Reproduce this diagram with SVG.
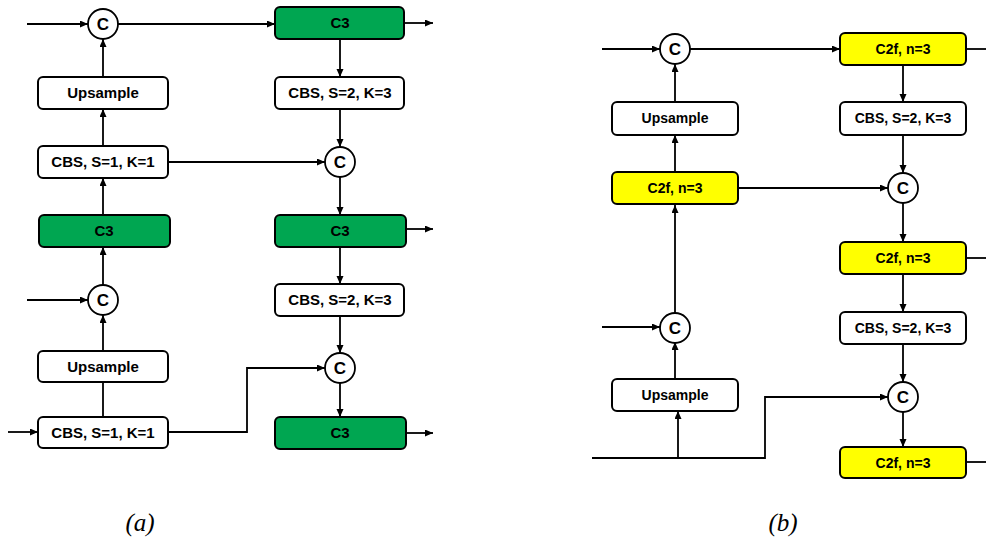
<svg xmlns="http://www.w3.org/2000/svg" width="986" height="539" viewBox="0 0 986 539">
  <style>
    .box { stroke: #000; stroke-width: 2; rx: 5; ry: 5; }
    .plain { fill: #fff; }
    .green { fill: #00a651; }
    .yellow { fill: #ffff00; }
    .cat { fill: #fff; stroke: #000; stroke-width: 1.8; }
    .lbl { font-family: "Liberation Sans", Arial, sans-serif; font-weight: bold; font-size: 15px; text-anchor: middle; fill: #000; }
    .lblb { font-family: "Liberation Sans", Arial, sans-serif; font-weight: bold; font-size: 14px; text-anchor: middle; fill: #000; }
    .cl { font-family: "Liberation Sans", Arial, sans-serif; font-weight: bold; font-size: 17px; text-anchor: middle; fill: #000; }
    .cap { font-family: "Liberation Serif", "Times New Roman", serif; font-style: italic; font-size: 25px; text-anchor: middle; fill: #000; }
    .wire { fill: none; stroke: #000; stroke-width: 1.8; }
    .arr { marker-end: url(#ah); }
  </style>
  <defs>
    <marker id="ah" markerUnits="userSpaceOnUse" markerWidth="9" markerHeight="8" refX="8" refY="3.5" orient="auto">
      <path d="M0,0 L8,3.5 L0,7 z" fill="#000"/>
    </marker>
  </defs>

  <!-- connectors -->
  <g id="connectors">
    <!-- panel a -->
    <line class="wire arr" x1="27" y1="24" x2="88" y2="24"/>
    <line class="wire arr" x1="118" y1="24" x2="275" y2="24"/>
    <line class="wire arr" x1="404" y1="23" x2="433" y2="23"/>
    <line class="wire arr" x1="103" y1="77" x2="103" y2="39"/>
    <line class="wire arr" x1="340" y1="39" x2="340" y2="77"/>
    <line class="wire arr" x1="103" y1="146" x2="103" y2="109"/>
    <line class="wire arr" x1="168" y1="162" x2="325" y2="162"/>
    <line class="wire arr" x1="340" y1="109" x2="340" y2="147"/>
    <line class="wire arr" x1="103" y1="215" x2="103" y2="178"/>
    <line class="wire arr" x1="340" y1="177" x2="340" y2="215"/>
    <line class="wire arr" x1="406" y1="229" x2="433" y2="229"/>
    <line class="wire arr" x1="340" y1="247" x2="340" y2="284"/>
    <line class="wire arr" x1="103" y1="285" x2="103" y2="247"/>
    <line class="wire arr" x1="27" y1="300" x2="88" y2="300"/>
    <line class="wire arr" x1="103" y1="351" x2="103" y2="315"/>
    <line class="wire arr" x1="340" y1="316" x2="340" y2="353"/>
    <line class="wire" x1="103" y1="417" x2="103" y2="382"/>
    <line class="wire arr" x1="8" y1="432" x2="38" y2="432"/>
    <polyline class="wire arr" points="168,432 247,432 247,368 325,368"/>
    <line class="wire arr" x1="340" y1="383" x2="340" y2="417"/>
    <line class="wire arr" x1="406" y1="433" x2="433" y2="433"/>

    <!-- panel b -->
    <line class="wire arr" x1="602" y1="49" x2="660" y2="49"/>
    <line class="wire arr" x1="690" y1="49" x2="840" y2="49"/>
    <line class="wire" x1="966" y1="49" x2="986" y2="49"/>
    <line class="wire arr" x1="675" y1="102" x2="675" y2="64"/>
    <line class="wire arr" x1="903" y1="65" x2="903" y2="102"/>
    <line class="wire arr" x1="675" y1="172" x2="675" y2="135"/>
    <line class="wire arr" x1="738" y1="188" x2="888" y2="188"/>
    <line class="wire arr" x1="903" y1="135" x2="903" y2="173"/>
    <line class="wire arr" x1="903" y1="203" x2="903" y2="242"/>
    <line class="wire" x1="966" y1="258" x2="986" y2="258"/>
    <line class="wire arr" x1="675" y1="313" x2="675" y2="205"/>
    <line class="wire arr" x1="602" y1="327" x2="660" y2="327"/>
    <line class="wire arr" x1="903" y1="274" x2="903" y2="312"/>
    <line class="wire arr" x1="675" y1="379" x2="675" y2="342"/>
    <line class="wire arr" x1="903" y1="344" x2="903" y2="382"/>
    <polyline class="wire arr" points="592,458 765,458 765,397 888,397"/>
    <line class="wire arr" x1="678" y1="458" x2="678" y2="411"/>
    <line class="wire arr" x1="903" y1="412" x2="903" y2="447"/>
    <line class="wire" x1="966" y1="462" x2="986" y2="462"/>
  </g>

  <!-- panel a nodes -->
  <g id="a-cat1"><circle class="cat" cx="103" cy="24" r="15"/><text class="cl" x="103" y="30">C</text></g>
  <g id="a-c3-top"><rect class="box green" x="275" y="7" width="129" height="32"/><text class="lbl" x="340" y="28">C3</text></g>
  <g id="a-up1"><rect class="box plain" x="38" y="77" width="130" height="32"/><text class="lbl" x="103" y="98">Upsample</text></g>
  <g id="a-cbs-down1"><rect class="box plain" x="275" y="77" width="129" height="32"/><text class="lbl" x="340" y="98">CBS, S=2, K=3</text></g>
  <g id="a-cbs1"><rect class="box plain" x="38" y="146" width="130" height="32"/><text class="lbl" x="103" y="167">CBS, S=1, K=1</text></g>
  <g id="a-cat2"><circle class="cat" cx="340" cy="162" r="15"/><text class="cl" x="340" y="168">C</text></g>
  <g id="a-c3-left"><rect class="box green" x="39" y="215" width="131" height="32"/><text class="lbl" x="104" y="236">C3</text></g>
  <g id="a-c3-mid"><rect class="box green" x="275" y="215" width="131" height="32"/><text class="lbl" x="340" y="236">C3</text></g>
  <g id="a-cbs-down2"><rect class="box plain" x="275" y="284" width="129" height="32"/><text class="lbl" x="340" y="305">CBS, S=2, K=3</text></g>
  <g id="a-cat3"><circle class="cat" cx="103" cy="300" r="15"/><text class="cl" x="103" y="306">C</text></g>
  <g id="a-up2"><rect class="box plain" x="38" y="351" width="130" height="31"/><text class="lbl" x="103" y="372">Upsample</text></g>
  <g id="a-cat4"><circle class="cat" cx="340" cy="368" r="15"/><text class="cl" x="340" y="374">C</text></g>
  <g id="a-cbs2"><rect class="box plain" x="38" y="417" width="130" height="31"/><text class="lbl" x="103" y="438">CBS, S=1, K=1</text></g>
  <g id="a-c3-bot"><rect class="box green" x="275" y="417" width="131" height="32"/><text class="lbl" x="340" y="438">C3</text></g>

  <!-- panel b nodes -->
  <g id="b-cat1"><circle class="cat" cx="675" cy="49" r="15"/><text class="cl" x="675" y="55">C</text></g>
  <g id="b-c2f-top"><rect class="box yellow" x="840" y="33" width="126" height="32"/><text class="lblb" x="903" y="54">C2f, n=3</text></g>
  <g id="b-up1"><rect class="box plain" x="612" y="102" width="126" height="33"/><text class="lblb" x="675" y="123">Upsample</text></g>
  <g id="b-cbs-down1"><rect class="box plain" x="840" y="102" width="126" height="33"/><text class="lblb" x="903" y="123">CBS, S=2, K=3</text></g>
  <g id="b-c2f-left"><rect class="box yellow" x="612" y="172" width="126" height="32"/><text class="lblb" x="675" y="193">C2f, n=3</text></g>
  <g id="b-cat2"><circle class="cat" cx="903" cy="188" r="15"/><text class="cl" x="903" y="194">C</text></g>
  <g id="b-c2f-mid"><rect class="box yellow" x="840" y="242" width="126" height="32"/><text class="lblb" x="903" y="263">C2f, n=3</text></g>
  <g id="b-cbs-down2"><rect class="box plain" x="840" y="312" width="126" height="32"/><text class="lblb" x="903" y="333">CBS, S=2, K=3</text></g>
  <g id="b-cat3"><circle class="cat" cx="675" cy="328" r="15"/><text class="cl" x="675" y="334">C</text></g>
  <g id="b-up2"><rect class="box plain" x="612" y="379" width="126" height="32"/><text class="lblb" x="675" y="400">Upsample</text></g>
  <g id="b-cat4"><circle class="cat" cx="903" cy="397" r="15"/><text class="cl" x="903" y="403">C</text></g>
  <g id="b-c2f-bot"><rect class="box yellow" x="840" y="447" width="126" height="31"/><text class="lblb" x="903" y="468">C2f, n=3</text></g>

  <!-- panel captions -->
  <text class="cap" x="140" y="531">(a)</text>
  <text class="cap" x="783" y="531">(b)</text>
</svg>
